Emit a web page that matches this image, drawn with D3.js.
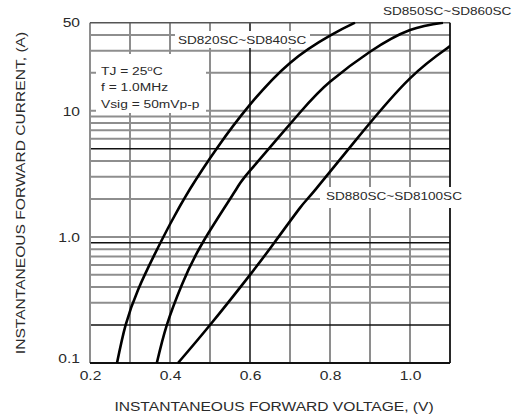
<!DOCTYPE html>
<html>
<head>
<meta charset="utf-8">
<script src="https://cdn.jsdelivr.net/npm/d3@7"></script>
<style>
	body { margin: 0; background: #fff; }
	text { font-family: "Liberation Sans", Arial, sans-serif; fill: #2a2a2a; }
</style>
</head>
<body>
<div id="chart"></div>
<script>

//curve data: forward voltage (V) against forward current (A)
var series = ["SD820SC~SD840SC", "SD850SC~SD860SC", "SD880SC~SD8100SC"];

var volts820 = [0.2675, 0.289, 0.32, 0.36, 0.40, 0.45, 0.52, 0.60, 0.70, 0.80, 0.8625];
var amps820  = [0.1, 0.2, 0.38, 0.71, 1.26, 2.4, 5.2, 11.2, 24, 39.5, 50];

var volts850 = [0.367, 0.392, 0.43, 0.483, 0.5625, 0.60, 0.725, 0.80, 0.90, 1.00, 1.0825];
var amps850  = [0.1, 0.2, 0.42, 0.916, 2.3, 3.35, 9.7, 17, 29.4, 43.7, 50];

var volts880 = [0.42, 0.50, 0.60, 0.6625, 0.725, 0.7625, 0.875, 1.00, 1.0925, 1.10];
var amps880  = [0.1, 0.2, 0.5, 0.916, 1.7, 2.35, 6.43, 18.1, 31.3, 32.7];

//axis ticks and grid lines
var xTicks = [0.2, 0.4, 0.6, 0.8, 1.0];
var yTicks = [0.1, 1.0, 10, 50];
var xGridGray = [0.3, 0.4, 0.5, 0.7, 0.8, 0.9, 1.0];
var xGridDark = [0.6];
var yGridGray = [0.3, 0.4, 0.5, 0.6, 0.7, 0.8, 1, 2, 3, 4, 6, 7, 8, 9, 10, 20, 30, 40];
var yGridDark = [0.2, 0.9, 5];

var notes = ["TJ = 25", "f = 1.0MHz", "Vsig = 50mVp-p"];

var width = 518, height = 416;
var stretch = 1.2;   //the scanned lettering is wider than plain Arial

var svg = d3.select("#chart").append("svg")
	.attr("width", width)
	.attr("height", height);

var x = d3.scaleLinear().domain([0.2, 1.1]).range([90, 450]);
var y = d3.scaleLog().domain([0.1, 50]).range([363, 22.7]);

var gray = "#8e8e8e", dark = "#111";

function hLines(values, color, w){
	svg.append("g").selectAll("line").data(values).enter().append("line")
		.attr("x1", x(0.2)).attr("x2", x(1.1))
		.attr("y1", function(d){ return y(d); })
		.attr("y2", function(d){ return y(d); })
		.style("stroke", color).style("stroke-width", w);
}
function vLines(values, color, w){
	svg.append("g").selectAll("line").data(values).enter().append("line")
		.attr("x1", function(d){ return x(d); })
		.attr("x2", function(d){ return x(d); })
		.attr("y1", y(0.1)).attr("y2", y(50))
		.style("stroke", color).style("stroke-width", w);
}

hLines(yGridGray, gray, 2);
vLines(xGridGray, gray, 2);
hLines(yGridDark, dark, 1.5);
vLines(xGridDark, dark, 1.5);

//frame: left and top are gray in the scan, bottom and right black
svg.append("line").attr("x1", x(0.2)).attr("x2", x(0.2)).attr("y1", y(0.1)).attr("y2", y(50))
	.style("stroke", gray).style("stroke-width", 2);
svg.append("line").attr("x1", x(0.2)).attr("x2", x(1.1)).attr("y1", y(50)).attr("y2", y(50))
	.style("stroke", "#555").style("stroke-width", 1.5);
svg.append("line").attr("x1", x(0.2)).attr("x2", x(1.1)).attr("y1", y(0.1)).attr("y2", y(0.1))
	.style("stroke", dark).style("stroke-width", 1.8);
svg.append("line").attr("x1", x(1.1)).attr("x2", x(1.1)).attr("y1", y(0.1)).attr("y2", y(50))
	.style("stroke", dark).style("stroke-width", 1.8);

//white patches behind the labels hide the grid
function patch(x0, y0, w, h){
	svg.append("rect").attr("x", x0).attr("y", y0).attr("width", w).attr("height", h)
		.style("fill", "#fff");
}
patch(96, 54, 110, 59);
patch(175, 31, 135, 17);
patch(320, 187, 146, 21);

//curves, clipped to the plot area
svg.append("clipPath").attr("id", "plotClip").append("rect")
	.attr("x", x(0.2)).attr("y", y(50) - 1)
	.attr("width", x(1.1) - x(0.2)).attr("height", y(0.1) - y(50) + 2);

var line = d3.line()
	.x(function(d){ return x(d[0]); })
	.y(function(d){ return y(d[1]); })
	.curve(d3.curveNatural);

var curves = [d3.zip(volts820, amps820), d3.zip(volts850, amps850), d3.zip(volts880, amps880)];

svg.append("g").attr("clip-path", "url(#plotClip)")
	.selectAll("path").data(curves).enter().append("path")
	.attr("d", line)
	.style("fill", "none")
	.style("stroke", "#000")
	.style("stroke-width", 2.6);

//stretched text helper
function label(px, py, str, size, anchor){
	return svg.append("text")
		.attr("transform", "translate(" + px + "," + py + ") scale(" + stretch + ",1)")
		.attr("text-anchor", anchor)
		.style("font-size", size + "px")
		.text(str);
}

//axes: only the labels, the grid is drawn above
var xAxis = svg.append("g")
	.attr("transform", "translate(0," + y(0.1) + ")")
	.call(d3.axisBottom(x).tickValues(xTicks).tickSize(0).tickPadding(8)
		.tickFormat(d3.format(".1f")));
var yAxis = svg.append("g")
	.attr("transform", "translate(" + x(0.2) + ",0)")
	.call(d3.axisLeft(y).tickValues(yTicks).tickSize(0)
		.tickFormat(function(d){ return d >= 50 ? "50" : d >= 10 ? "10" : d3.format(".1f")(d); }));

xAxis.select(".domain").remove();
yAxis.select(".domain").remove();
xAxis.selectAll("text")
	.attr("y", 8).attr("dy", "0.71em")
	.attr("transform", "scale(" + stretch + ",1)")
	.style("font-size", "13px").style("font-family", null);
yAxis.selectAll("text")
	.attr("x", -10 / stretch)
	.attr("dy", function(d){ return d === 0.1 ? "-0.05em" : "0.32em"; })
	.attr("transform", "scale(" + stretch + ",1)")
	.style("font-size", "13px").style("font-family", null);

//axis titles
label(274, 411, "INSTANTANEOUS FORWARD VOLTAGE, (V)", 13, "middle");
svg.append("text")
	.attr("transform", "translate(25,193) rotate(-90) scale(" + stretch + ",1)")
	.attr("text-anchor", "middle")
	.style("font-size", "13px")
	.text("INSTANTANEOUS FORWARD CURRENT, (A)");

//series names
label(178, 44, series[0], 11.3, "start");
label(383, 15, series[1], 11.3, "start");
label(326, 200, series[2], 11.3, "start");

//test conditions
var tj = label(101, 75, notes[0], 11.5, "start");
tj.append("tspan").attr("dy", -4).style("font-size", "8px").text("o");
tj.append("tspan").attr("dy", 4).text("C");
label(101, 91, notes[1], 11.5, "start");
label(101, 108, notes[2], 11.5, "start");

</script>
</body>
</html>
